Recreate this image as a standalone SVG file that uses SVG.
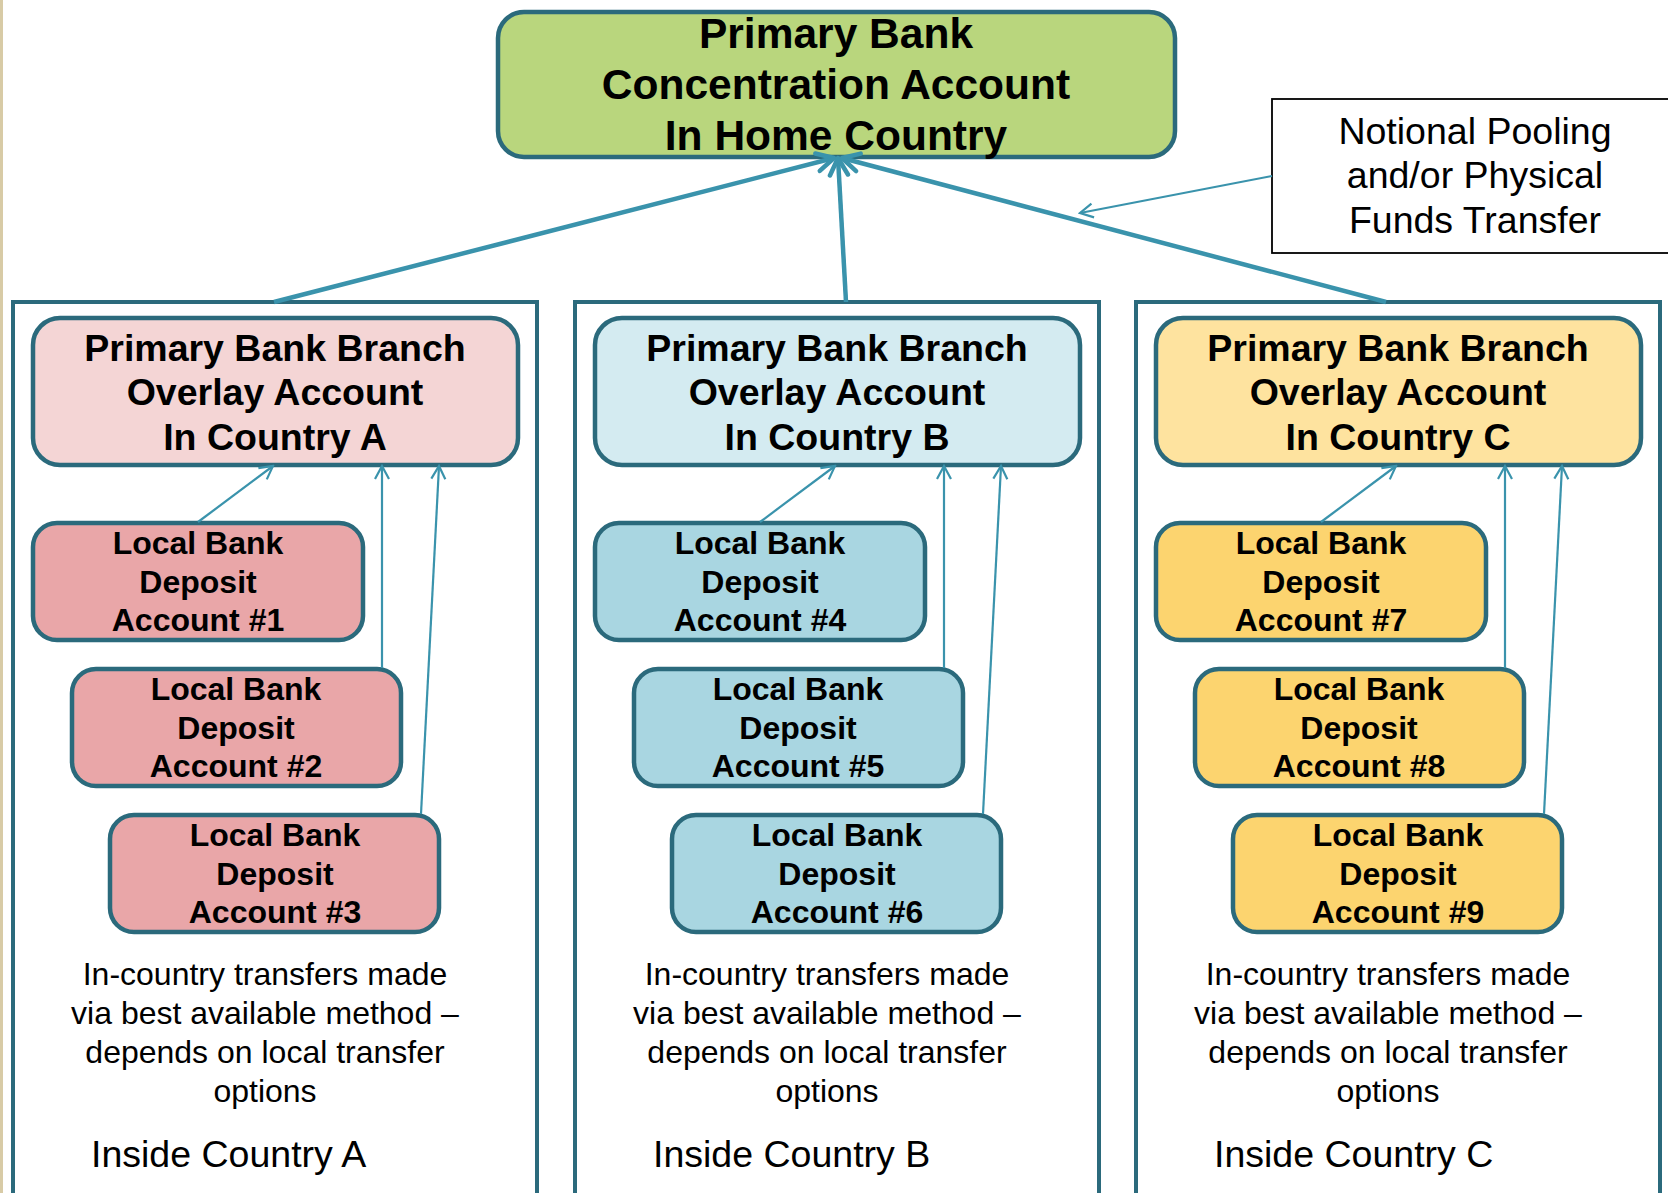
<svg xmlns="http://www.w3.org/2000/svg" width="1668" height="1193" viewBox="0 0 1668 1193">
<defs>
<marker id="ah" viewBox="0 0 24 24" refX="21" refY="12" markerWidth="24" markerHeight="24" markerUnits="userSpaceOnUse" orient="auto">
<path d="M4,3 L21,12 L4,21" fill="none" stroke="#3A93AC" stroke-width="4.5" stroke-linecap="round" stroke-linejoin="round"/>
</marker>
<marker id="at" viewBox="0 0 18 18" refX="16" refY="9" markerWidth="18" markerHeight="18" markerUnits="userSpaceOnUse" orient="auto">
<path d="M3,2 L16,9 L3,16" fill="none" stroke="#3A93AC" stroke-width="2.2"/>
</marker>
</defs>
<style>
.cont{fill:#fff;stroke:#2B6A7C;stroke-width:4}
.box{stroke:#2B6A7C;stroke-width:4.5}
.bt{font-family:"Liberation Sans",Arial,sans-serif;font-weight:bold;fill:#000;text-anchor:middle}
.rt{font-family:"Liberation Sans",Arial,sans-serif;fill:#000}
.ov{font-size:37.5px}
.lc{font-size:32px}
.body{font-size:32px;text-anchor:middle}
.ins{font-size:37.5px}
.thick{stroke:#3A93AC;stroke-width:4.5;fill:none;marker-end:url(#ah)}
.thin{stroke:#3A93AC;stroke-width:2.2;fill:none;marker-end:url(#at)}
.pinkO{fill:#F4D5D5}.pinkL{fill:#E9A6A8}
.blueO{fill:#D4EBF1}.blueL{fill:#A9D6E1}
.yelO{fill:#FEE39F}.yelL{fill:#FCD46F}
</style>
<rect x="0" y="0" width="1668" height="1193" fill="#fff"/>
<rect x="0" y="0" width="3" height="1193" fill="#D8CBA6"/>

<g id="containerA">
<rect class="cont" x="13" y="302" width="524" height="920"/>
<text class="rt body" x="265" y="985">In-country transfers made</text>
<text class="rt body" x="265" y="1024">via best available method –</text>
<text class="rt body" x="265" y="1063">depends on local transfer</text>
<text class="rt body" x="265" y="1102">options</text>
<text class="rt ins" x="91" y="1167">Inside Country A</text>
</g>
<g id="containerB">
<rect class="cont" x="575" y="302" width="524" height="920"/>
<text class="rt body" x="827" y="985">In-country transfers made</text>
<text class="rt body" x="827" y="1024">via best available method –</text>
<text class="rt body" x="827" y="1063">depends on local transfer</text>
<text class="rt body" x="827" y="1102">options</text>
<text class="rt ins" x="653" y="1167">Inside Country B</text>
</g>
<g id="containerC">
<rect class="cont" x="1136" y="302" width="524" height="920"/>
<text class="rt body" x="1388" y="985">In-country transfers made</text>
<text class="rt body" x="1388" y="1024">via best available method –</text>
<text class="rt body" x="1388" y="1063">depends on local transfer</text>
<text class="rt body" x="1388" y="1102">options</text>
<text class="rt ins" x="1214" y="1167">Inside Country C</text>
</g>

<g id="top">
<rect class="box" x="498" y="12" width="677" height="145" rx="26" fill="#B9D67D"/>
<text class="bt" x="836" y="48" font-size="42.5">Primary Bank</text>
<text class="bt" x="836" y="99" font-size="42.5">Concentration Account</text>
<text class="bt" x="836" y="150" font-size="42.5">In Home Country</text>
</g>

<g id="notional">
<rect x="1272" y="99" width="410" height="154" fill="#fff" stroke="#000" stroke-width="1.8"/>
<text class="rt" x="1475" y="144" font-size="37.5" text-anchor="middle">Notional Pooling</text>
<text class="rt" x="1475" y="188" font-size="37.5" text-anchor="middle">and/or Physical</text>
<text class="rt" x="1475" y="233" font-size="37.5" text-anchor="middle">Funds Transfer</text>
</g>

<g id="overlayA">
<rect class="box pinkO" x="33" y="318" width="485" height="147" rx="27"/>
<text class="bt ov" x="275" y="361">Primary Bank Branch</text>
<text class="bt ov" x="275" y="405">Overlay Account</text>
<text class="bt ov" x="275" y="450">In Country A</text>
</g>
<g id="local1">
<rect class="box pinkL" x="33" y="523" width="330" height="117" rx="24"/>
<text class="bt lc" x="198" y="554">Local Bank</text>
<text class="bt lc" x="198" y="593">Deposit</text>
<text class="bt lc" x="198" y="631">Account #1</text>
</g>
<g id="local2">
<rect class="box pinkL" x="72" y="669" width="329" height="117" rx="24"/>
<text class="bt lc" x="236" y="700">Local Bank</text>
<text class="bt lc" x="236" y="739">Deposit</text>
<text class="bt lc" x="236" y="777">Account #2</text>
</g>
<g id="local3">
<rect class="box pinkL" x="110" y="815" width="329" height="117" rx="24"/>
<text class="bt lc" x="275" y="846">Local Bank</text>
<text class="bt lc" x="275" y="885">Deposit</text>
<text class="bt lc" x="275" y="923">Account #3</text>
</g>

<g id="overlayB">
<rect class="box blueO" x="595" y="318" width="485" height="147" rx="27"/>
<text class="bt ov" x="837" y="361">Primary Bank Branch</text>
<text class="bt ov" x="837" y="405">Overlay Account</text>
<text class="bt ov" x="837" y="450">In Country B</text>
</g>
<g id="local4">
<rect class="box blueL" x="595" y="523" width="330" height="117" rx="24"/>
<text class="bt lc" x="760" y="554">Local Bank</text>
<text class="bt lc" x="760" y="593">Deposit</text>
<text class="bt lc" x="760" y="631">Account #4</text>
</g>
<g id="local5">
<rect class="box blueL" x="634" y="669" width="329" height="117" rx="24"/>
<text class="bt lc" x="798" y="700">Local Bank</text>
<text class="bt lc" x="798" y="739">Deposit</text>
<text class="bt lc" x="798" y="777">Account #5</text>
</g>
<g id="local6">
<rect class="box blueL" x="672" y="815" width="329" height="117" rx="24"/>
<text class="bt lc" x="837" y="846">Local Bank</text>
<text class="bt lc" x="837" y="885">Deposit</text>
<text class="bt lc" x="837" y="923">Account #6</text>
</g>

<g id="overlayC">
<rect class="box yelO" x="1156" y="318" width="485" height="147" rx="27"/>
<text class="bt ov" x="1398" y="361">Primary Bank Branch</text>
<text class="bt ov" x="1398" y="405">Overlay Account</text>
<text class="bt ov" x="1398" y="450">In Country C</text>
</g>
<g id="local7">
<rect class="box yelL" x="1156" y="523" width="330" height="117" rx="24"/>
<text class="bt lc" x="1321" y="554">Local Bank</text>
<text class="bt lc" x="1321" y="593">Deposit</text>
<text class="bt lc" x="1321" y="631">Account #7</text>
</g>
<g id="local8">
<rect class="box yelL" x="1195" y="669" width="329" height="117" rx="24"/>
<text class="bt lc" x="1359" y="700">Local Bank</text>
<text class="bt lc" x="1359" y="739">Deposit</text>
<text class="bt lc" x="1359" y="777">Account #8</text>
</g>
<g id="local9">
<rect class="box yelL" x="1233" y="815" width="329" height="117" rx="24"/>
<text class="bt lc" x="1398" y="846">Local Bank</text>
<text class="bt lc" x="1398" y="885">Deposit</text>
<text class="bt lc" x="1398" y="923">Account #9</text>
</g>

<g id="connectors">
<line class="thick" x1="274" y1="302" x2="834" y2="158"/>
<line class="thick" x1="846" y1="302" x2="838" y2="158"/>
<line class="thick" x1="1386" y1="302" x2="842" y2="158"/>
<line class="thin" x1="1272" y1="176" x2="1080" y2="213"/>
<line class="thin" x1="198" y1="522" x2="273" y2="466"/>
<line class="thin" x1="382" y1="668" x2="382" y2="466"/>
<line class="thin" x1="421" y1="814" x2="439" y2="466"/>
<line class="thin" x1="760" y1="522" x2="835" y2="466"/>
<line class="thin" x1="944" y1="668" x2="944" y2="466"/>
<line class="thin" x1="983" y1="814" x2="1001" y2="466"/>
<line class="thin" x1="1321" y1="522" x2="1396" y2="466"/>
<line class="thin" x1="1505" y1="668" x2="1505" y2="466"/>
<line class="thin" x1="1544" y1="814" x2="1562" y2="466"/>
</g>
</svg>
